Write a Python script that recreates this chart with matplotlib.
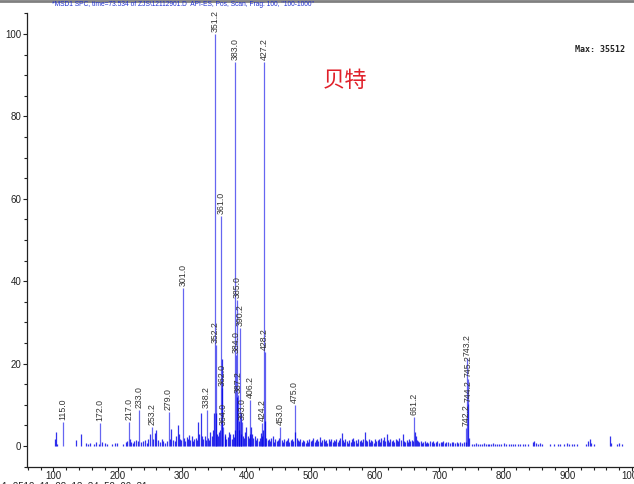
import matplotlib.pyplot as plt
from matplotlib.ticker import MultipleLocator

plt.rcParams['font.family'] = ['Liberation Sans', 'DejaVu Sans']

# labelled peaks (m/z, relative abundance %)
label_mz = [115.0, 172.0, 217.0, 233.0, 253.2, 279.0, 301.0, 338.2, 351.2, 352.2,
            361.0, 362.0, 364.0, 383.0, 384.0, 385.0, 387.2, 390.2, 393.0, 406.2,
            424.2, 427.2, 428.2, 453.0, 475.0, 661.2, 742.2, 743.2, 744.2, 745.2]
label_int = [5.8, 5.6, 5.8, 8.7, 4.6, 8.3, 38.3, 8.7, 100.0, 24.5,
             55.8, 14.0, 4.6, 93.3, 22.0, 35.4, 12.4, 28.6, 5.8, 11.2,
             5.6, 93.2, 22.8, 4.6, 10.0, 7.0, 4.4, 21.3, 10.2, 16.2]

# small unlabelled ions (noise)
noise_mz = [102, 104, 106, 135, 143, 150, 154, 157, 163, 166, 170, 176, 180, 183, 191,
            195, 199, 208, 212, 215, 219, 221, 223, 225, 228, 231, 236, 239, 242, 245,
            247, 250, 255, 258, 260, 262, 265, 268, 270, 273, 276, 281, 283, 286, 289,
            291, 293, 295, 297, 299, 303, 305, 307, 309, 311, 313, 315, 317, 319, 321,
            323, 325, 327, 329, 331, 333, 335, 337, 340, 342, 344, 346, 348, 349.5, 353.2,
            354, 356, 357, 359, 362.6, 366, 367, 369, 371, 373, 375, 377, 379, 381, 382,
            386, 388, 389, 391, 392, 394, 396, 398, 400, 402, 404, 405, 407.2, 409, 411,
            413, 415, 417, 419, 421, 423, 425, 426, 429.2, 431, 433, 435, 437, 439, 441,
            443, 445, 447, 449, 451, 455, 457, 459, 461, 463, 465, 467, 469, 471, 473,
            476, 478, 480, 482, 484, 486, 488, 490, 492, 494, 496, 498, 500, 502, 504,
            506, 508, 510, 512, 514, 516, 518, 520, 522, 524, 526, 528, 530, 532, 534,
            536, 538, 540, 542, 544, 546, 548, 550, 552, 554, 556, 558, 560, 562, 564,
            566, 568, 570, 572, 574, 576, 578, 580, 582, 584, 586, 588, 590, 592, 594,
            596, 598, 600, 602, 604, 606, 608, 610, 612, 614, 616, 618, 620, 622, 624,
            626, 628, 630, 632, 634, 636, 638, 640, 643, 645, 647, 649, 651, 653, 655,
            657, 659, 662.2, 663.2, 665, 667, 669, 671, 673, 675, 677, 679, 681, 683, 686,
            688, 690, 692, 695, 697, 699, 702, 704, 706, 709, 711, 714, 716, 719, 721,
            724, 727, 729, 732, 735, 738, 741, 746.2, 751, 754, 757, 760, 763, 766, 769,
            772, 775, 778, 781, 784, 787, 790, 793, 796, 800, 804, 808, 811, 815, 818,
            822, 826, 830, 834, 838, 846, 848, 851, 854, 857, 860, 872, 878, 884, 888,
            894, 898, 902, 906, 910, 914, 928, 932, 934, 936, 940, 965, 967, 976, 979,
            984]
noise_int = [1.7, 3.4, 0.5, 1.5, 3.0, 0.7, 0.5, 0.8, 0.5, 0.9, 0.6, 1.0, 0.8, 0.6, 0.6,
             0.7, 0.7, 0.5, 1.0, 1.2, 1.8, 1.0, 0.8, 1.3, 1.5, 1.2, 0.9, 1.1, 1.5, 0.8,
             1.8, 3.0, 1.6, 3.2, 4.0, 1.4, 0.9, 1.6, 1.2, 0.8, 1.3, 1.8, 4.2, 1.5, 1.2,
             2.5, 5.0, 2.8, 1.8, 1.5, 2.0, 1.2, 2.2, 1.8, 2.6, 1.5, 2.4, 1.2, 1.8, 2.0,
             1.5, 5.8, 3.0, 8.0, 2.5, 1.8, 2.5, 1.5, 2.0, 1.5, 3.5, 2.5, 3.8, 8.0, 8.0,
             3.0, 2.5, 3.5, 4.0, 21.0, 2.5, 3.0, 1.8, 2.2, 3.5, 2.8, 1.8, 3.0, 2.2, 4.0,
             12.0, 6.0, 4.0, 8.0, 3.0, 2.5, 2.0, 3.5, 4.5, 2.5, 2.0, 3.0, 4.5, 3.0, 2.0,
             2.5, 1.5, 2.0, 1.2, 2.0, 3.2, 2.5, 4.0, 6.0, 2.0, 1.5, 1.8, 1.2, 2.0, 2.5,
             1.0, 1.8, 1.2, 1.5, 2.0, 1.5, 1.0, 1.8, 1.2, 1.5, 2.0, 1.0, 1.5, 1.8, 1.2,
             3.5, 2.0, 1.5, 1.2, 1.8, 1.0, 1.5, 1.2, 0.8, 1.5, 1.0, 1.8, 1.2, 1.5, 2.0,
             1.0, 1.5, 1.8, 1.2, 2.2, 1.0, 1.5, 1.8, 1.2, 1.5, 0.8, 1.6, 1.2, 1.8, 1.0,
             1.5, 1.2, 1.8, 1.0, 1.5, 2.0, 3.2, 1.5, 1.0, 1.8, 1.2, 0.8, 1.5, 1.0, 1.6,
             2.0, 1.2, 1.5, 0.8, 1.8, 1.2, 1.5, 1.0, 1.8, 3.4, 1.5, 1.2, 1.8, 1.0, 1.5,
             1.2, 0.8, 1.6, 1.2, 1.5, 1.8, 1.0, 2.0, 1.5, 2.2, 1.2, 3.0, 1.5, 1.0, 1.8,
             1.2, 1.5, 1.0, 1.8, 1.5, 1.2, 2.0, 1.5, 2.8, 1.2, 1.0, 1.5, 1.0, 1.8, 1.2,
             1.5, 1.2, 3.5, 2.5, 1.5, 1.2, 1.0, 1.2, 0.8, 1.0, 1.2, 0.8, 1.0, 0.8, 1.2,
             0.9, 1.1, 0.8, 1.0, 1.2, 0.8, 1.0, 0.9, 1.2, 0.8, 0.9, 1.0, 0.8, 0.9, 1.0,
             0.8, 0.9, 0.8, 0.9, 0.8, 0.9, 1.0, 2.0, 0.6, 0.5, 0.7, 0.5, 0.6, 0.5, 0.7,
             0.5, 0.6, 0.5, 0.6, 0.8, 0.5, 0.6, 0.5, 0.6, 0.7, 0.5, 0.6, 0.5, 0.6, 0.5,
             0.5, 0.6, 0.5, 0.6, 0.5, 1.0, 1.2, 0.8, 0.6, 0.7, 0.5, 0.4, 0.5, 0.5, 0.6,
             0.6, 0.8, 0.5, 0.6, 0.5, 0.5, 0.6, 1.2, 1.6, 0.8, 0.5, 2.4, 0.8, 0.6, 0.7,
             0.5]

title = '*MSD1 SPC, time=73.534 of ZJS\\12112901.D  API-ES, Pos, Scan, Frag: 100, "100-1000"'
max_text = 'Max: 35512'
name_text = '贝特'

fig = plt.figure(figsize=(6.34, 4.84), dpi=100)
ax = fig.add_axes([27 / 634, 1 - 467 / 484, 1 - 27 / 634, (467 - 13) / 484])

ax.vlines(noise_mz, 0, noise_int, color='#0000e8', lw=0.9, alpha=0.8)
ax.vlines(label_mz, 0, label_int, color='#0000e8', lw=0.9, alpha=0.6)

for m, h in zip(label_mz, label_int):
    ax.text(m, h + 0.5, f'{m:.1f}', rotation=90, ha='center', va='bottom',
            fontsize=6.3, color='#333333')

ax.set_xlim(58.8, 1002.8)
ax.set_ylim(-5.1, 105.1)
ax.xaxis.set_major_locator(MultipleLocator(100))
ax.xaxis.set_minor_locator(MultipleLocator(20))
ax.yaxis.set_major_locator(MultipleLocator(20))
ax.yaxis.set_minor_locator(MultipleLocator(5))
ax.tick_params(which='major', length=3, width=0.8, labelsize=7, colors='#222222', pad=1)
ax.tick_params(which='minor', length=2, width=0.8, colors='#222222')
ax.tick_params(axis='x', pad=0)
ax.spines['top'].set_visible(False)
ax.spines['right'].set_visible(False)
for s in ['left', 'bottom']:
    ax.spines[s].set_linewidth(0.9)
    ax.spines[s].set_color('#222222')

fig.text(52 / 634, 1 - 4 / 484, title, fontsize=4.8, color='#2030d0', va='center', ha='left')
fig.text(575 / 634, 1 - 49 / 484, max_text, fontsize=6, color='#222222', va='center',
         ha='left', family='DejaVu Sans Mono', weight='bold')
fig.text(345 / 634, 1 - 80 / 484, name_text, fontsize=16, color='#e0202a', va='center',
         ha='center', family=['Noto Sans CJK SC', 'DejaVu Sans'])
fig.text(2 / 634, 1 - 487 / 484, '1  2512  11  28  13  34  52  00  31', fontsize=7,
         color='#222222', va='center', ha='left')
fig.add_artist(plt.Line2D([0, 1], [1 - 1 / 484, 1 - 1 / 484], color='#808080', lw=2,
                          transform=fig.transFigure))

fig.savefig('out.png', dpi=100)
